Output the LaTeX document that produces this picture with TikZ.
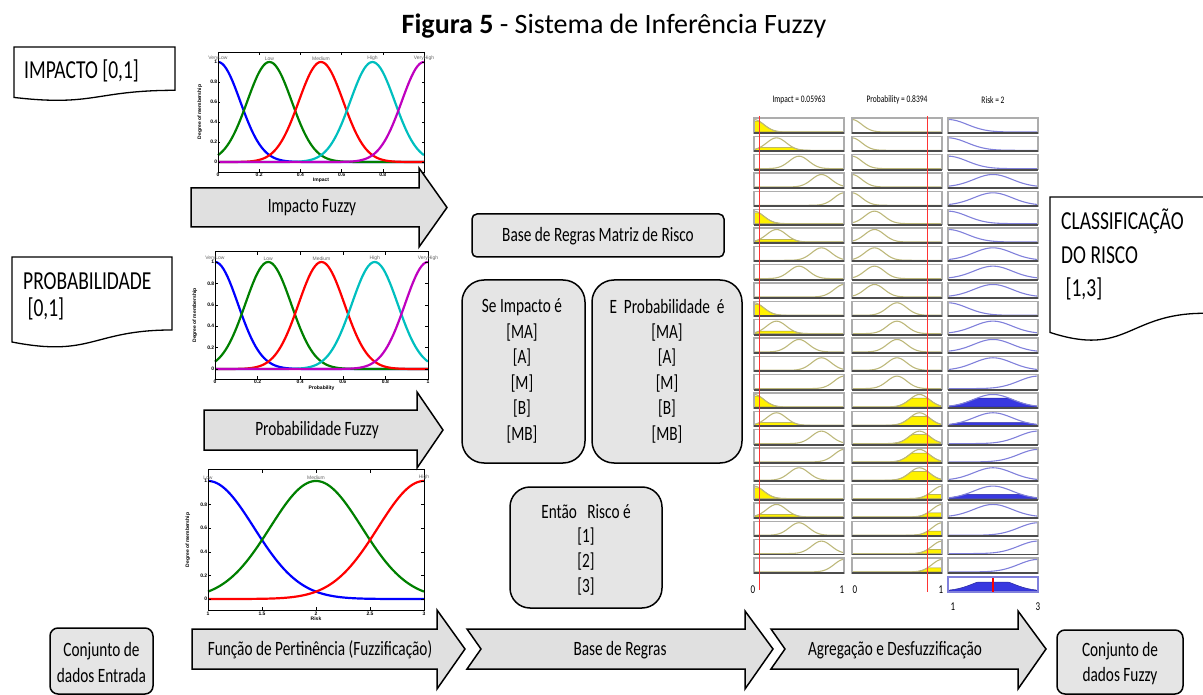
\documentclass[tikz,border=0pt]{standalone}
\usepackage{graphicx}
\usepackage{fontspec}
\setmainfont{Carlito}
\newfontfamily\plotfont{Liberation Sans}
\usetikzlibrary{calc}

\definecolor{boxgray}{gray}{0.90}
\definecolor{arrowgray}{gray}{0.88}
\definecolor{mfgreen}{rgb}{0,0.5,0}
\definecolor{mfcyan}{rgb}{0,0.75,0.75}
\definecolor{mfmag}{rgb}{0.75,0,0.75}
\definecolor{khaki}{rgb}{0.74,0.72,0.48}
\definecolor{rvblue}{rgb}{0.50,0.50,0.86}
\definecolor{rvfill}{rgb}{0.22,0.22,0.88}
\definecolor{rvgray}{gray}{0.68}

% labels are set in a narrow, tall form
\newcommand\tall[1]{\scalebox{1}[1.33]{#1}}

% flowchart "document" shape: x0, y0, width, height
\newcommand\docshape[4]{%
  \draw[docbox] (#1,#2) -- ({#1+#3},#2) -- ({#1+#3},{#2+0.802*#4})
    .. controls ({#1+0.5*#3},{#2+0.802*#4}) and ({#1+0.5*#3},{#2+1.107*#4})
    .. (#1,{#2+0.934*#4}) -- cycle;}

% one cell of the rule viewer: left x, top y, centre, 2 sigma^2, fill level, fill style, curve style
\newcommand\rvcell[7]{%
  \begin{scope}[shift={(#1,#2)}]
    \begin{scope}[shift={(0,14)},xscale=90,yscale=-12.5]
      \ifdim #5pt>0pt
        \filldraw[#6] plot[domain=0:1,samples=41] (\x,{min(#5,gmf(\x,#3,#4))}) -- (1,0) -- (0,0) -- cycle;
      \fi
      \draw[#7] plot[domain=0:1,samples=41] (\x,{gmf(\x,#3,#4)});
    \end{scope}
    \draw[rvframe] (0,0) rectangle (90,15);
    \draw[rvbase] (0,15) -- (90,15);
  \end{scope}}

\begin{document}
\begin{tikzpicture}[x=1pt,y=-1pt,
  declare function={gmf(\mfx,\mfc,\mfk)=exp(max(-9,-((\mfx-\mfc)*(\mfx-\mfc))/\mfk));},
  docbox/.style={draw=black,line width=1.3pt,fill=white},
  blockarrow/.style={draw=black,line width=1.5pt,fill=arrowgray,line join=miter},
  rulebox/.style={draw=black,line width=1.5pt,fill=boxgray},
  txt/.style={inner sep=0pt,font=\fontsize{15.3}{18}\selectfont},
  doctxt/.style={inner sep=0pt,anchor=west,font=\fontsize{19.5}{23}\selectfont},
  axbox/.style={draw=black,line width=0.9pt},
  tickmark/.style={line width=0.5pt},
  ticklbl/.style={inner sep=0.6pt,font=\plotfont\bfseries\fontsize{5}{6}\selectfont},
  ylbl/.style={ticklbl,rotate=90,anchor=south},
  mfname/.style={inner sep=0pt,text=black!60,font=\plotfont\fontsize{5}{6}\selectfont},
  mfcurve/.style={line width=2.2pt},
  incurve/.style={draw=khaki,line width=1.1pt},
  infill/.style={fill=yellow,draw=yellow!55!black,line width=0.5pt},
  outcurve/.style={draw=rvblue,line width=1.1pt},
  outfill/.style={fill=rvfill,draw=rvfill!70!black,line width=0.5pt},
  rvframe/.style={draw=rvgray,line width=1.2pt},
  rvbase/.style={draw=black!70,line width=1.8pt},
  rvhead/.style={inner sep=0pt,font=\fontsize{7.5}{9}\selectfont},
  rvtick/.style={inner sep=0pt,font=\fontsize{9}{10}\selectfont},
  cutline/.style={draw=red!80,line width=0.8pt}
]
\useasboundingbox (0,0) rectangle (1203,695);

% ---------- title ----------
\node[inner sep=0pt,font=\fontsize{28}{32}\selectfont] (title) at (614,26)
  {\textbf{Figura 5} - Sistema de Inferência Fuzzy};

% ---------- input / output documents ----------
\docshape{14}{47}{161}{54}
\node[doctxt] (docimp) at (24,71) {\tall{IMPACTO [0,1]}};
\docshape{12}{257}{160}{91}
\node[doctxt] (docprob1) at (23,281) {\tall{PROBABILIDADE}};
\node[doctxt] (docprob2) at (23,309) {\tall{~[0,1]}};
\docshape{1050}{197}{154}{145}
\node[doctxt] (docrisk1) at (1061,221) {\tall{CLASSIFICAÇÃO}};
\node[doctxt] (docrisk2) at (1061,255) {\tall{DO RISCO}};
\node[doctxt] (docrisk3) at (1061,289) {\tall{~[1,3]}};

% ---------- membership functions: Impact ----------
\begin{scope}[shift={(218,162)},xscale=206,yscale=-100]
  \draw[mfcurve,blue]   plot[domain=0:1,samples=101] (\x,{gmf(\x,0,0.0233)});
  \draw[mfcurve,mfgreen] plot[domain=0:1,samples=101] (\x,{gmf(\x,0.25,0.0233)});
  \draw[mfcurve,red]    plot[domain=0:1,samples=101] (\x,{gmf(\x,0.5,0.0233)});
  \draw[mfcurve,mfcyan] plot[domain=0:1,samples=101] (\x,{gmf(\x,0.75,0.0233)});
  \draw[mfcurve,mfmag]  plot[domain=0:1,samples=101] (\x,{gmf(\x,1,0.0233)});
  \draw[axbox] (0,-0.1) rectangle (1,1.1);
  \foreach \t/\tl [count=\k] in {0/0,0.2/0.2,0.4/0.4,0.6/0.6,0.8/0.8,1/1}{
    \draw[tickmark] (\t,-0.1) -- (\t,-0.07) (\t,1.1) -- (\t,1.07);
    \draw[tickmark] (0,\t) -- (0.012,\t) (1,\t) -- (0.988,\t);
    \node[ticklbl,anchor=north] (impx\k) at (\t,-0.1) {\tl};
    \node[ticklbl,anchor=east] (impy\k) at (0,\t) {\tl};
  }
  \node[ticklbl,anchor=north,yshift=-5pt] (impxl) at (0.5,-0.1) {Impact};
  \node[ylbl,yshift=15pt] (impyl) at (0,0.5) {Degree of membership};
  \node[mfname,anchor=south,yshift=0.8pt] (impn1) at (0,1) {VeryLow};
  \node[mfname,anchor=south,yshift=0.8pt] (impn2) at (0.25,1) {Low};
  \node[mfname,anchor=south,yshift=0.8pt] (impn3) at (0.5,1) {Medium};
  \node[mfname,anchor=south,yshift=0.8pt] (impn4) at (0.75,1) {High};
  \node[mfname,anchor=south,yshift=0.8pt] (impn5) at (1,1) {VeryHigh};
\end{scope}

% ---------- membership functions: Probability ----------
\begin{scope}[shift={(215,369)},xscale=213,yscale=-107]
  \draw[mfcurve,blue]   plot[domain=0:1,samples=101] (\x,{gmf(\x,0,0.0233)});
  \draw[mfcurve,mfgreen] plot[domain=0:1,samples=101] (\x,{gmf(\x,0.25,0.0233)});
  \draw[mfcurve,red]    plot[domain=0:1,samples=101] (\x,{gmf(\x,0.5,0.0233)});
  \draw[mfcurve,mfcyan] plot[domain=0:1,samples=101] (\x,{gmf(\x,0.75,0.0233)});
  \draw[mfcurve,mfmag]  plot[domain=0:1,samples=101] (\x,{gmf(\x,1,0.0233)});
  \draw[axbox] (0,-0.1) rectangle (1,1.1);
  \foreach \t/\tl [count=\k] in {0/0,0.2/0.2,0.4/0.4,0.6/0.6,0.8/0.8,1/1}{
    \draw[tickmark] (\t,-0.1) -- (\t,-0.07) (\t,1.1) -- (\t,1.07);
    \draw[tickmark] (0,\t) -- (0.012,\t) (1,\t) -- (0.988,\t);
    \node[ticklbl,anchor=north] (prbx\k) at (\t,-0.1) {\tl};
    \node[ticklbl,anchor=east] (prby\k) at (0,\t) {\tl};
  }
  \node[ticklbl,anchor=north,yshift=-5pt] (prbxl) at (0.5,-0.1) {Probability};
  \node[ylbl,yshift=17pt] (prbyl) at (0,0.5) {Degree of membership};
  \node[mfname,anchor=south,yshift=0.8pt] (prbn1) at (0,1) {VeryLow};
  \node[mfname,anchor=south,yshift=0.8pt] (prbn2) at (0.25,1) {Low};
  \node[mfname,anchor=south,yshift=0.8pt] (prbn3) at (0.5,1) {Medium};
  \node[mfname,anchor=south,yshift=0.8pt] (prbn4) at (0.75,1) {High};
  \node[mfname,anchor=south,yshift=0.8pt] (prbn5) at (1,1) {VeryHigh};
\end{scope}

% ---------- membership functions: Risk (1..3) ----------
\begin{scope}[shift={(208,599)},xscale=216,yscale=-118]
  \draw[mfcurve,blue]   plot[domain=0:1,samples=101] (\x,{gmf(\x,0,0.0902)});
  \draw[mfcurve,mfgreen] plot[domain=0:1,samples=101] (\x,{gmf(\x,0.5,0.0902)});
  \draw[mfcurve,red]    plot[domain=0:1,samples=101] (\x,{gmf(\x,1,0.0902)});
  \draw[axbox] (0,-0.1) rectangle (1,1.1);
  \foreach \t/\tl [count=\k] in {0/1,0.25/1.5,0.5/2,0.75/2.5,1/3}{
    \draw[tickmark] (\t,-0.1) -- (\t,-0.07) (\t,1.1) -- (\t,1.07);
    \node[ticklbl,anchor=north] (rskx\k) at (\t,-0.1) {\tl};
  }
  \foreach \t/\tl [count=\k] in {0/0,0.2/0.2,0.4/0.4,0.6/0.6,0.8/0.8,1/1}{
    \draw[tickmark] (0,\t) -- (0.012,\t) (1,\t) -- (0.988,\t);
    \node[ticklbl,anchor=east] (rsky\k) at (0,\t) {\tl};
  }
  \node[ticklbl,anchor=north,yshift=-5pt] (rskxl) at (0.5,-0.1) {Risk};
  \node[ylbl,yshift=17pt] (rskyl) at (0,0.5) {Degree of membership};
  \node[mfname,anchor=south,yshift=0.8pt] (rskn1) at (0,1) {Low};
  \node[mfname,anchor=south,yshift=0.8pt] (rskn2) at (0.5,1) {Medium};
  \node[mfname,anchor=south,yshift=0.8pt] (rskn3) at (1,1) {High};
\end{scope}

% ---------- block arrows beside the plots ----------
\draw[blockarrow] (191,188) -- (419,188) -- (419,168) -- (447,207.5) -- (419,247) -- (419,227) -- (191,227) -- cycle;
\node[txt] (arrimp) at (312,208) {\tall{Impacto Fuzzy}};
\draw[blockarrow] (204,410) -- (417,410) -- (417,392) -- (443,430) -- (417,468) -- (417,450) -- (204,450) -- cycle;
\node[txt] (arrprob) at (317,430) {\tall{Probabilidade Fuzzy}};

% ---------- rule base ----------
\draw[rulebox,rounded corners=5pt] (472,214) rectangle (724,257);
\node[txt] (rbtitle) at (598,236) {\tall{Base de Regras Matriz de Risco}};

\draw[rulebox,rounded corners=22pt] (462,280) rectangle (585,463);
\node[txt] (seimp) at (522,307) {\tall{Se Impacto é}};
\foreach \lv [count=\k] in {[MA],[A],[M],[B],[MB]}
  \node[txt] (seimp\k) at (522,{307+25.5*\k}) {\tall{\lv}};

\draw[rulebox,rounded corners=22pt] (592,280) rectangle (742,463);
\node[txt] (eprob) at (667,307) {\tall{E~ Probabilidade~ é}};
\foreach \lv [count=\k] in {[MA],[A],[M],[B],[MB]}
  \node[txt] (eprob\k) at (667,{307+25.5*\k}) {\tall{\lv}};

\draw[rulebox,rounded corners=20pt] (510,487) rectangle (662,608);
\node[txt] (entao) at (586,512) {\tall{Então~~ Risco é}};
\foreach \lv [count=\k] in {[1],[2],[3]}
  \node[txt] (entao\k) at (586,{512+25*\k}) {\tall{\lv}};

% ---------- rule viewer ----------
\node[rvhead] (hImp) at (799,100) {\tall{Impact = 0.05963}};
\node[rvhead] (hProb) at (897,100) {\tall{Probability = 0.8394}};
\node[rvhead] (hRisk) at (993,100) {\tall{Risk = 2}};

\foreach \ia/\pb/\rk [count=\n from 0] in {0/0/0,1/0/0,2/0/0,3/0/1,4/0/1,
    0/1/0,1/1/0,3/1/1,2/1/1,4/1/1, 0/2/0,1/2/1,2/2/1,3/2/1,4/2/2,
    0/3/1,1/3/1,3/3/2,4/3/2,2/3/1, 0/4/1,1/4/1,2/4/2,3/4/2,4/4/2}{
  \pgfmathsetmacro\yt{118+\n*18.33}
  \pgfmathsetmacro\ic{\ia*0.25}
  \pgfmathsetmacro\pc{\pb*0.25}
  \pgfmathsetmacro\rc{\rk*0.5}
  \pgfmathsetmacro\ih{\ia==0 ? 0.86 : (\ia==1 ? 0.21 : 0)}
  \pgfmathsetmacro\ph{\pb==3 ? 0.71 : (\pb==4 ? 0.33 : 0)}
  \pgfmathsetmacro\rh{(\n==15 || \n==16 || \n==20) ? min(\ih,\ph) : 0}
  \rvcell{754}{\yt}{\ic}{0.0233}{\ih}{infill}{incurve}
  \rvcell{852}{\yt}{\pc}{0.0233}{\ph}{infill}{incurve}
  \rvcell{948}{\yt}{\rc}{0.0902}{\rh}{outfill}{outcurve}
}

% aggregated output
\begin{scope}[shift={(948,577)}]
  \begin{scope}[shift={(0,14)},xscale=90,yscale=-12.5]
    \filldraw[outfill] plot[domain=0:1,samples=61] (\x,{min(0.71,gmf(\x,0.5,0.0902))}) -- (1,0) -- (0,0) -- cycle;
  \end{scope}
  \draw[draw=rvblue,line width=1.1pt] (0,0) rectangle (90,15);
  \draw[red,line width=1.4pt] (45,1) -- (45,15);
\end{scope}

% input values
\draw[cutline] (759.4,116) -- (759.4,590);
\draw[cutline] (927.5,116) -- (927.5,592);

\node[rvtick] (ax1a) at (753,590) {\tall{0}};
\node[rvtick] (ax1b) at (842,590) {\tall{1}};
\node[rvtick] (ax2a) at (855,590) {\tall{0}};
\node[rvtick] (ax2b) at (941,590) {\tall{1}};
\node[rvtick] (ax3a) at (953,607) {\tall{1}};
\node[rvtick] (ax3b) at (1038,607) {\tall{3}};

% ---------- process chain ----------
\draw[rulebox,rounded corners=8pt] (50,628) rectangle (153,694);
\node[txt] (inset1) at (101.5,651) {\tall{Conjunto de}};
\node[txt] (inset2) at (101.5,676) {\tall{dados Entrada}};

\draw[blockarrow] (192,629) -- (437,629) -- (437,610) -- (465,649) -- (437,689) -- (437,669) -- (192,669) -- cycle;
\node[txt] (stepfuzz) at (320,650) {\tall{Função de Pertinência (Fuzzificação)}};

\draw[blockarrow] (467,629) -- (745,629) -- (745,611) -- (773,649) -- (745,689) -- (745,669) -- (467,669) -- (481,649) -- cycle;
\node[txt] (steprules) at (620,650) {\tall{Base de Regras}};

\draw[blockarrow] (771,629) -- (1018,629) -- (1018,611) -- (1046,649) -- (1018,689) -- (1018,669) -- (771,669) -- (785,649) -- cycle;
\node[txt] (stepdefuzz) at (895,650) {\tall{Agregação e Desfuzzificação}};

\draw[rulebox,rounded corners=8pt] (1057,630) rectangle (1183,694);
\node[txt] (outset1) at (1120,651) {\tall{Conjunto de}};
\node[txt] (outset2) at (1120,676) {\tall{dados Fuzzy}};

\end{tikzpicture}
\end{document}
